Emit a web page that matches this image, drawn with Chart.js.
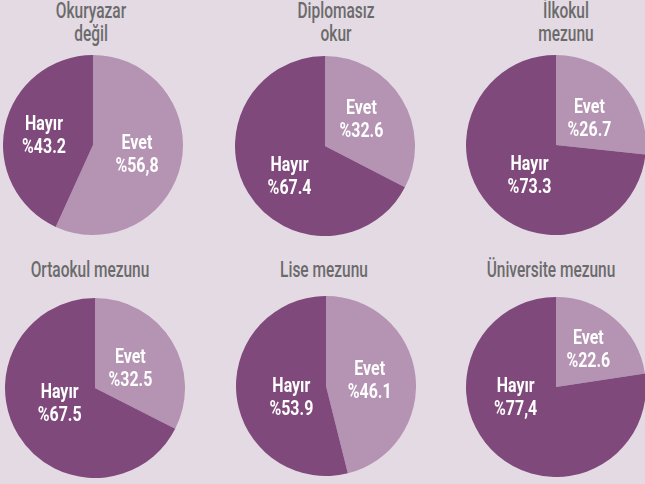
<!DOCTYPE html>
<html><head><meta charset="utf-8">
<script src="https://cdn.jsdelivr.net/npm/chart.js@4"></script>
<style>
html,body{margin:0;padding:0;width:645px;height:484px;overflow:hidden;background:#e4dae4;}
.box{position:absolute;}
.ttl{position:absolute;transform:translateX(-50%) scaleX(0.72);transform-origin:50% 0;white-space:nowrap;text-align:center;
 font-family:Roboto,"DejaVu Sans",sans-serif;font-weight:500;font-size:21.5px;line-height:22.5px;color:#6b6b6b;}
</style></head>
<body>
<script>
const categories = [['Okuryazar','değil'], ['Diplomasız','okur'], ['İlkokul','mezunu'], ['Ortaokul mezunu'], ['Lise mezunu'], ['Üniversite mezunu']];
const sliceNames = ['Evet', 'Hayır'];
const evetValues = [56.8, 32.6, 26.7, 32.5, 46.1, 22.6];
const hayirValues = [43.2, 67.4, 73.3, 67.5, 53.9, 77.4];
const evetText = ['%56,8', '%32.6', '%26.7', '%32.5', '%46.1', '%22.6'];
const hayirText = ['%43.2', '%67.4', '%73.3', '%67.5', '%53.9', '%77,4'];

// layout (not data)
const centers = [[93,145],[325,146],[556,145],[95,388],[326,386],[556,387]];
const R = 90;
const titlePos = [[91,0],[336,0],[566,0],[90,259],[324,259],[551,259]];
const nudges = [[[0,-2],[-5,-1]],[[-2,-5],[3,6]],[[0,2],[7,-1]],[[-3,3],[3,-10]],[[-1,-2],[10,5]],[[3,-5],[-11,-25]]];

const labelPlugin = {
  id: 'sliceLabels',
  afterDatasetsDraw(chart, args, opts) {
    const ctx = chart.ctx;
    const meta = chart.getDatasetMeta(0);
    meta.data.forEach((arc, i) => {
      const p = arc.tooltipPosition();
      const n = opts.nudge[i];
      const x = p.x + n[0], y = p.y + n[1];
      ctx.save();
      ctx.fillStyle = '#ffffff';
      ctx.font = 'bold 21px Roboto, "DejaVu Sans", sans-serif';
      ctx.textAlign = 'center';
      ctx.textBaseline = 'alphabetic';
      ctx.translate(x, y);
      ctx.scale(0.76, 1);
      ctx.fillText(chart.data.labels[i], 0, -4);
      ctx.fillText(opts.texts[i], 0, 19);
      ctx.restore();
    });
  }
};

categories.forEach((cat, k) => {
  const [cx, cy] = centers[k];
  const div = document.createElement('div');
  div.className = 'box';
  div.style.left = (cx - R) + 'px';
  div.style.top = (cy - R) + 'px';
  const cv = document.createElement('canvas');
  cv.width = 2 * R; cv.height = 2 * R;
  div.appendChild(cv);
  document.body.appendChild(div);

  const t = document.createElement('div');
  t.className = 'ttl';
  t.style.left = titlePos[k][0] + 'px';
  t.style.top = titlePos[k][1] + 'px';
  t.innerHTML = cat.join('<br>');
  document.body.appendChild(t);

  new Chart(cv, {
    type: 'pie',
    data: {
      labels: sliceNames,
      datasets: [{
        data: [evetValues[k], hayirValues[k]],
        backgroundColor: ['#b593b3', '#80497c'],
        borderWidth: 0
      }]
    },
    options: {
      responsive: false,
      animation: false,
      devicePixelRatio: 1,
      layout: { padding: 0 },
      plugins: {
        legend: { display: false },
        tooltip: { enabled: false },
        title: { display: false },
        sliceLabels: { texts: [evetText[k], hayirText[k]], nudge: nudges[k] }
      }
    },
    plugins: [labelPlugin]
  });
});
</script>
</body></html>
